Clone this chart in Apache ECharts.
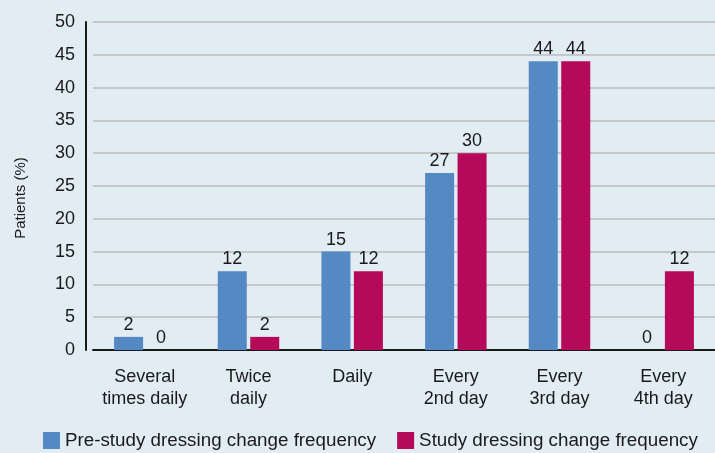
<!DOCTYPE html>
<html>
<head>
<meta charset="utf-8">
<script src="https://cdn.jsdelivr.net/npm/echarts@6/dist/echarts.min.js"></script>
<style>
html, body { margin: 0; padding: 0; background: #e1ecf3; }
#main { width: 715px; height: 453px; }
</style>
</head>
<body>
<div id="main"></div>
<script>
// categories and values
var categories = ['Several\ntimes daily', 'Twice\ndaily', 'Daily', 'Every\n2nd day', 'Every\n3rd day', 'Every\n4th day'];
var preStudy = [2, 12, 15, 27, 44, 0];
var study = [0, 2, 12, 30, 44, 12];
var seriesNames = ['Pre-study dressing change frequency', 'Study dressing change frequency'];

var chart = echarts.init(document.getElementById('main'));

var labelStyle = {
    show: true,
    position: 'top',
    distance: 3,
    fontFamily: 'Liberation Sans',
    fontSize: 18,
    color: '#1a1a1a'
};

var option = {
    backgroundColor: '#e1ecf3',
    animation: false,
    textStyle: { fontFamily: 'Liberation Sans' },
    grid: { left: 93, right: -13, top: 22, bottom: 103 },
    legend: {
        left: 38,
        bottom: -2,
        itemWidth: 17,
        itemHeight: 17,
        itemGap: 21,
        icon: 'rect',
        textStyle: { fontSize: 18.8, color: '#1a1a1a', fontFamily: 'Liberation Sans' },
        data: seriesNames
    },
    xAxis: {
        type: 'category',
        data: categories,
        axisLine: { lineStyle: { color: '#1a1a1a', width: 2 } },
        axisTick: { show: false },
        axisLabel: {
            interval: 0,
            margin: 16,
            fontSize: 18,
            lineHeight: 22,
            color: '#1a1a1a',
            fontFamily: 'Liberation Sans'
        }
    },
    yAxis: {
        type: 'value',
        min: 0,
        max: 50,
        interval: 5,
        offset: 7,
        name: 'Patients (%)',
        nameLocation: 'middle',
        nameGap: 58,
        nameTextStyle: { fontSize: 15, color: '#1a1a1a', fontFamily: 'Liberation Sans', padding: [0, 24, 0, 0] },
        axisLine: { show: true, lineStyle: { color: '#1a1a1a', width: 2 } },
        axisTick: { show: false },
        axisLabel: { margin: 11, fontSize: 18, color: '#1a1a1a', fontFamily: 'Liberation Sans' },
        splitLine: { lineStyle: { color: '#c4c8cb', width: 2 } }
    },
    series: [
        {
            name: seriesNames[0],
            type: 'bar',
            data: preStudy,
            barWidth: 29,
            barGap: '12%',
            itemStyle: { color: '#5589c4' },
            label: labelStyle
        },
        {
            name: seriesNames[1],
            type: 'bar',
            data: study,
            barWidth: 29,
            barGap: '12%',
            itemStyle: { color: '#b5095a' },
            label: labelStyle
        }
    ]
};

chart.setOption(option);
</script>
</body>
</html>
